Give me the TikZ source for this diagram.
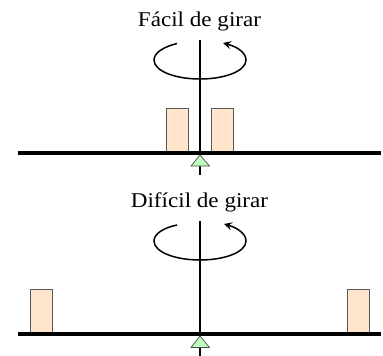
\documentclass[tikz,border=0pt]{standalone}
\usepackage{fontspec}
\setmainfont{Liberation Serif}
\newfontfamily\capfont[FakeStretch=1.1]{Liberation Serif}
\usetikzlibrary{arrows.meta}
\tikzset{
  px/.style={x=1pt,y=-1pt},
  bar/.style={line width=3.4pt,black},
  axisline/.style={line width=1.6pt,black},
  massbox/.style={draw=black!65,line width=0.9pt,fill=orange!20!white,minimum width=22pt,minimum height=44pt,inner sep=0pt,outer sep=0pt,anchor=south},
  pivot/.style={draw=black!70,line width=0.7pt,fill=green!25!white},
  spin/.style={line width=1.5pt,black,-{Stealth[length=8pt,width=8pt,inset=3pt]}},
  caption/.style={font=\capfont\fontsize{21}{25}\selectfont,inner sep=0pt,anchor=base},
}
\begin{document}
\begin{tikzpicture}[px]
\useasboundingbox (0,0) rectangle (383,356);
% top
\node[caption] (t1) at (199.5,26) {Fácil de girar};
\coordinate (a1t) at (200,40); \coordinate (a1b) at (200,175);
\coordinate (b1l) at (18,153); \coordinate (b1r) at (381,153);
\draw[axisline] (a1t) -- (a1b);
\node[massbox] (m1) at (177,152) {};
\node[massbox] (m2) at (222.5,152) {};
\draw[bar] (b1l) -- (b1r);
\draw[pivot] (200,155) -- (209.5,166) -- (191,166) -- cycle;
\draw[spin] (177,43.5) .. controls (163,47) and (154,53) .. (154,60)
  .. controls (154,71) and (175,79) .. (200,79)
  .. controls (225,79) and (246,71) .. (246,60)
  .. controls (246,53) and (238,47) .. (223,43);
% bottom
\node[caption] (t2) at (199.5,207) {Difícil de girar};
\coordinate (a2t) at (200,221); \coordinate (a2b) at (200,356);
\coordinate (b2l) at (18,334); \coordinate (b2r) at (381,334);
\draw[axisline] (a2t) -- (a2b);
\node[massbox] (m3) at (41,333) {};
\node[massbox] (m4) at (358.5,333) {};
\draw[bar] (b2l) -- (b2r);
\draw[pivot] (200,336) -- (209.5,347.5) -- (191,347.5) -- cycle;
\draw[spin] (177,225) .. controls (163,228) and (154,234) .. (154,241)
  .. controls (154,252) and (175,260) .. (200,260)
  .. controls (225,260) and (246,252) .. (246,241)
  .. controls (246,234) and (238,228) .. (224,224);
\end{tikzpicture}
\end{document}
